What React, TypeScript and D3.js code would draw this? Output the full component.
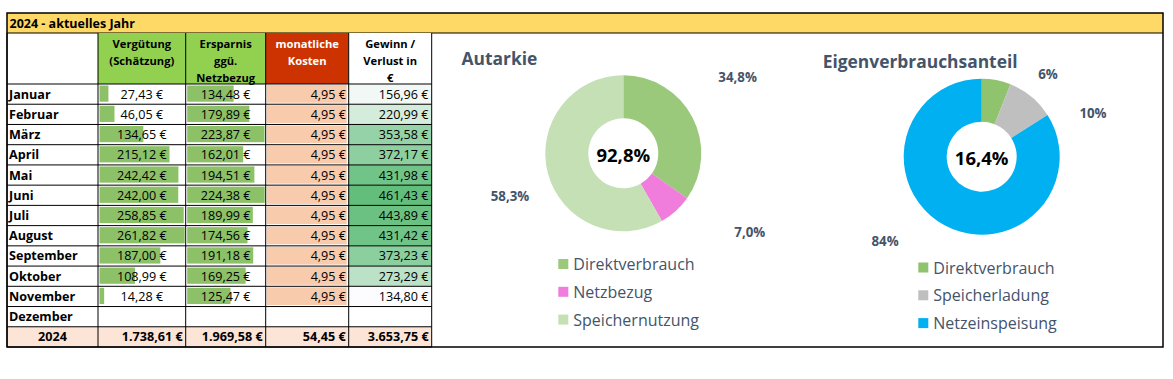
import React from "react";
import * as d3 from "d3";

// ---------- DATA ----------
const sheetTitle = "2024 - aktuelles Jahr";
const months = ["Januar", "Februar", "März", "April", "Mai", "Juni", "Juli", "August", "September", "Oktober", "November", "Dezember"];
const headerLines = [
  ["Vergütung", "(Schätzung)"],
  ["Ersparnis", "ggü.", "Netzbezug"],
  ["monatliche", "Kosten"],
  ["Gewinn /", "Verlust in", "€"],
];
const verguetung = [27.43, 46.05, 134.65, 215.12, 242.42, 242.0, 258.85, 261.82, 187.0, 108.99, 14.28, null];
const ersparnis = [134.48, 179.89, 223.87, 162.01, 194.51, 224.38, 189.99, 174.56, 191.18, 169.25, 125.47, null];
const kosten = [4.95, 4.95, 4.95, 4.95, 4.95, 4.95, 4.95, 4.95, 4.95, 4.95, 4.95, null];
const gewinn = [156.96, 220.99, 353.58, 372.17, 431.98, 461.43, 443.89, 431.42, 373.23, 273.29, 134.8, null];
const totalLabel = "2024";
const totals = [1738.61, 1969.58, 54.45, 3653.75];

const autarkieTitle = "Autarkie";
const autarkieCats = ["Direktverbrauch", "Netzbezug", "Speichernutzung"];
const autarkieValues = [34.8, 7.0, 58.3];
const autarkieCenter = "92,8%";

const eigenTitle = "Eigenverbrauchsanteil";
const eigenCats = ["Direktverbrauch", "Speicherladung", "Netzeinspeisung"];
const eigenValues = [6, 10, 84];
const eigenCenter = "16,4%";

// ---------- LAYOUT / STYLE ----------
const W = 1173;
const H = 379;
const FONT = "'Open Sans', 'Noto Sans', sans-serif";
const frame = { x0: 7, x1: 1163, y0: 13, y1: 347 };
const titleRowBottom = 33;
const headerBottom = 84;
const colEdges = [7, 98, 185.7, 265.7, 348.7, 431.7];
const axisColor = "#44546A";
const TS = 12.6;

const de = d3.formatLocale({ decimal: ",", thousands: ".", grouping: [3], currency: ["", " €"] });
const fmtEur = (v: number) => de.format(",.2f")(v) + " €";

function Table() {
  const rows = [...months, totalLabel];
  const y = d3.scaleBand<string>().domain(rows).range([headerBottom, frame.y1]).paddingInner(0);
  const bh = y.bandwidth();
  const colW = (i: number) => colEdges[i + 1] - colEdges[i];

  const xV = d3.scaleLinear().domain([0, d3.max(verguetung as number[])!]).range([0, colW(1) - 2.5]);
  const xE = d3.scaleLinear().domain([0, d3.max(ersparnis as number[])!]).range([0, colW(2) - 2.5]);
  const xK = d3.scaleLinear().domain([0, d3.max(kosten as number[])!]).range([0, colW(3) - 3]);
  const gMin = d3.min(gewinn as number[])!;
  const gMax = d3.max(gewinn as number[])!;
  const gColor = d3.scaleLinear<string>().domain([gMin, gMax]).range(["#FCFCFF", "#63BE7B"]).interpolate(d3.interpolateRgb);

  const headerFill = ["#92D050", "#92D050", "#CC3300", "#FFFFFF"];
  const headerText = ["#000", "#000", "#FFFFFF", "#000"];

  return (
    <g fontFamily={FONT}>
      {headerLines.map((lines, i) => {
        const x0 = colEdges[i + 1];
        const w = colW(i + 1);
        return (
          <g key={"h" + i}>
            <rect x={x0} y={titleRowBottom} width={w} height={headerBottom - titleRowBottom} fill={headerFill[i]} />
            {lines.map((l, j) => (
              <text key={j} x={x0 + w / 2} y={titleRowBottom + 14.5 + j * 17} textAnchor="middle" fontSize={11.2} fontWeight="bold" fill={headerText[i]}>
                {l}
              </text>
            ))}
          </g>
        );
      })}
      <rect x={colEdges[0]} y={y(totalLabel)} width={colEdges[5] - colEdges[0]} height={bh} fill="#FCE4D6" />
      {months.map((m, i) => {
        const yy = y(m)!;
        const base = yy + bh / 2 + 4.5;
        const v = verguetung[i];
        const e = ersparnis[i];
        const k = kosten[i];
        const g = gewinn[i];
        return (
          <g key={m}>
            {v != null && <rect x={colEdges[1] + 1.5} y={yy + 1.5} width={xV(v)} height={bh - 4} fill="#8CC168" />}
            {e != null && <rect x={colEdges[2] + 1.5} y={yy + 1.5} width={xE(e)} height={bh - 4} fill="#8CC168" />}
            {k != null && <rect x={colEdges[3] + 1} y={yy + 1} width={xK(k)} height={bh - 2.5} fill="#F8CBAD" />}
            {g != null && <rect x={colEdges[4]} y={yy} width={colW(4)} height={bh} fill={gColor(g)} />}
            <text x={colEdges[0] + 2} y={base} fontSize={TS} fontWeight="bold" fill="#000">{m}</text>
            {v != null && <text x={(colEdges[1] + colEdges[2]) / 2} y={base} textAnchor="middle" fontSize={TS} fill="#000">{fmtEur(v)}</text>}
            {e != null && <text x={(colEdges[2] + colEdges[3]) / 2} y={base} textAnchor="middle" fontSize={TS} fill="#000">{fmtEur(e)}</text>}
            {k != null && <text x={colEdges[4] - 2.7} y={base} textAnchor="end" fontSize={TS} fill="#000">{fmtEur(k)}</text>}
            {g != null && <text x={colEdges[5] - 3.2} y={base} textAnchor="end" fontSize={TS} fill="#000">{fmtEur(g)}</text>}
          </g>
        );
      })}
      <text x={(colEdges[0] + colEdges[1]) / 2} y={y(totalLabel)! + bh / 2 + 4.5} textAnchor="middle" fontSize={TS} fontWeight="bold">{totalLabel}</text>
      {totals.map((t, i) => (
        <text key={"t" + i} x={colEdges[i + 2] - 3} y={y(totalLabel)! + bh / 2 + 4.5} textAnchor="end" fontSize={TS} fontWeight="bold">{fmtEur(t)}</text>
      ))}
      {rows.map((r) => (
        <line key={"hl" + r} x1={colEdges[0]} x2={colEdges[5]} y1={y(r)} y2={y(r)} stroke="#000" strokeWidth={1} />
      ))}
      <line x1={colEdges[0]} x2={colEdges[5]} y1={frame.y1} y2={frame.y1} stroke="#000" strokeWidth={1} />
      {colEdges.map((cx, i) => (
        <line key={"vl" + i} x1={cx} x2={cx} y1={titleRowBottom} y2={frame.y1} stroke="#000" strokeWidth={1} />
      ))}
    </g>
  );
}

type DonutProps = {
  cx: number;
  cy: number;
  title: string;
  titleX: number;
  titleY: number;
  titleSize: number;
  cats: string[];
  values: number[];
  colors: string[];
  center: string;
  fmt: (v: number) => string;
  nudges: [number, number][];
  legendX: number;
  legendY: number;
};

function Donut(p: DonutProps) {
  const pie = d3.pie<number>().sort(null).value((d) => d);
  const arcs = pie(p.values);
  const arc = d3.arc<d3.PieArcDatum<number>>().innerRadius(35).outerRadius(78);
  const labelArc = d3.arc<d3.PieArcDatum<number>>().innerRadius(118).outerRadius(118);
  return (
    <g fontFamily={FONT}>
      <text x={p.titleX} y={p.titleY} fontSize={p.titleSize} fontWeight="bold" fill={axisColor}>{p.title}</text>
      <g transform={`translate(${p.cx},${p.cy})`}>
        {arcs.map((a, i) => (
          <path key={i} d={arc(a)!} fill={p.colors[i]} />
        ))}
        {arcs.map((a, i) => {
          const [lx, ly] = labelArc.centroid(a);
          return (
            <text key={"l" + i} x={lx + p.nudges[i][0]} y={ly + p.nudges[i][1]} textAnchor="middle" dominantBaseline="central" fontSize={13.3} fontWeight="bold" fill={axisColor}>
              {p.fmt(p.values[i])}
            </text>
          );
        })}
        <text x={0} y={1} textAnchor="middle" dominantBaseline="central" fontSize={18.5} fontWeight="bold" fill="#000">{p.center}</text>
      </g>
      {p.cats.map((c, i) => (
        <g key={c} transform={`translate(${p.legendX},${p.legendY + i * 27.8})`}>
          <rect x={0} y={-5} width={10} height={10} fill={p.colors[i]} />
          <text x={15} y={0} dominantBaseline="central" fontSize={16} fill={axisColor}>{c}</text>
        </g>
      ))}
    </g>
  );
}

export default function App() {
  const de1 = (v: number) => de.format(".1f")(v) + "%";
  const de0 = (v: number) => de.format(".0f")(v) + "%";
  return (
    <svg width={W} height={H} style={{ position: "absolute", left: 0, top: 0, background: "#fff" }}>
      <rect x={0} y={0} width={W} height={H} fill="#fff" />
      <rect x={frame.x0} y={frame.y0} width={frame.x1 - frame.x0} height={titleRowBottom - frame.y0} fill="#FFD966" />
      <text x={frame.x0 + 2.5} y={frame.y0 + 15} fontFamily={FONT} fontSize={12.5} fontWeight="bold">{sheetTitle}</text>
      <line x1={frame.x0} x2={frame.x1} y1={titleRowBottom} y2={titleRowBottom} stroke="#000" />
      <Table />
      <Donut
        cx={623.3}
        cy={153.3}
        title={autarkieTitle}
        titleX={461.5}
        titleY={65}
        titleSize={17.4}
        cats={autarkieCats}
        values={autarkieValues}
        colors={["#9BC97C", "#F07CDC", "#C5E0B4"]}
        center={autarkieCenter}
        fmt={de1}
        nudges={[[9.6, -22.3], [47.2, -8.9], [0.8, 12.6]]}
        legendX={558.3}
        legendY={264}
      />
      <Donut
        cx={981.7}
        cy={156.7}
        title={eigenTitle}
        titleX={822.7}
        titleY={67.5}
        titleSize={17.4}
        cats={eigenCats}
        values={eigenValues}
        colors={["#8FC36E", "#BFBFBF", "#00B0F0"]}
        center={eigenCenter}
        fmt={de0}
        nudges={[[44.2, 33.2], [36.1, 47.2], [-39.8, -19.4]]}
        legendX={918.3}
        legendY={267.5}
      />
      <rect x={frame.x0} y={frame.y0} width={frame.x1 - frame.x0} height={frame.y1 - frame.y0} fill="none" stroke="#000" strokeWidth={1.5} />
    </svg>
  );
}
